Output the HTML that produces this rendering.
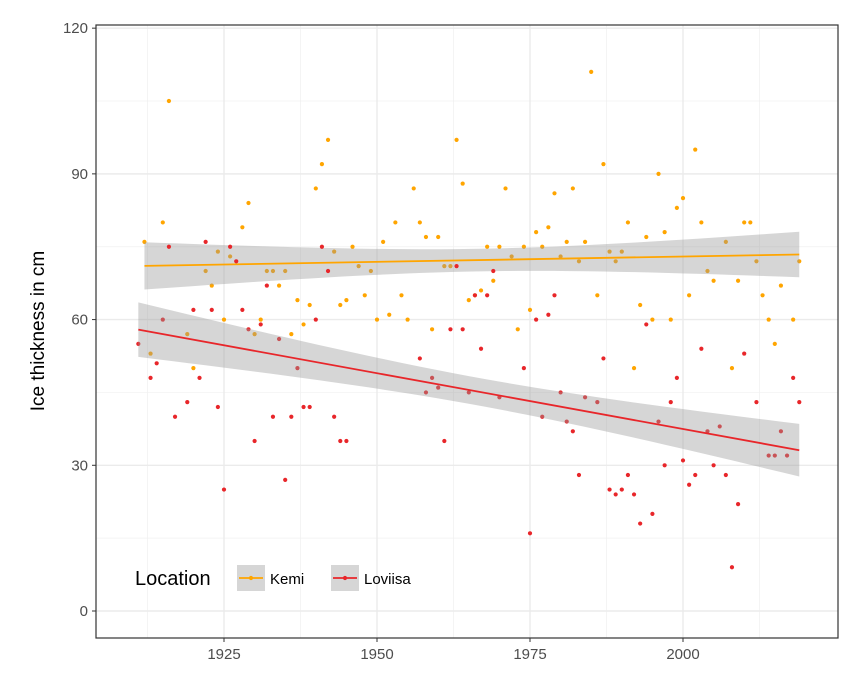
<!DOCTYPE html>
<html><head><meta charset="utf-8"><style>
body{margin:0;background:#fff;}
svg{font-family:"Liberation Sans",sans-serif;}
</style></head><body>
<svg id="chart" width="852" height="681" viewBox="0 0 852 681" xmlns="http://www.w3.org/2000/svg"></svg>
<script>
const kemiYears=[1912,1913,1915,1916,1919,1920,1922,1923,1924,1925,1926,1928,1929,1930,1931,1932,1933,1934,1935,1936,1937,1938,1939,1940,1941,1942,1943,1944,1945,1946,1947,1948,1949,1950,1951,1952,1953,1954,1955,1956,1957,1958,1959,1960,1961,1962,1963,1964,1965,1966,1967,1968,1969,1970,1971,1972,1973,1974,1975,1976,1977,1978,1979,1980,1981,1982,1983,1984,1985,1986,1987,1988,1989,1990,1991,1992,1993,1994,1995,1996,1997,1998,1999,2000,2001,2002,2003,2004,2005,2007,2008,2009,2010,2011,2012,2013,2014,2015,2016,2018,2019];
const kemiValues=[76,53,80,105,57,50,70,67,74,60,73,79,84,57,60,70,70,67,70,57,64,59,63,87,92,97,74,63,64,75,71,65,70,60,76,61,80,65,60,87,80,77,58,77,71,71,97,88,64,65,66,75,68,75,87,73,58,75,62,78,75,79,86,73,76,87,72,76,111,65,92,74,72,74,80,50,63,77,60,90,78,60,83,85,65,95,80,70,68,76,50,68,80,80,72,65,60,55,67,60,72];
const loviisaYears=[1911,1913,1914,1915,1916,1917,1919,1920,1921,1922,1923,1924,1925,1926,1927,1928,1929,1930,1931,1932,1933,1934,1935,1936,1937,1938,1939,1940,1941,1942,1943,1944,1945,1957,1958,1959,1960,1961,1962,1963,1964,1965,1966,1967,1968,1969,1970,1974,1975,1976,1977,1978,1979,1980,1981,1982,1983,1984,1986,1987,1988,1989,1990,1991,1992,1993,1994,1995,1996,1997,1998,1999,2000,2001,2002,2003,2004,2005,2006,2007,2008,2009,2010,2012,2014,2015,2016,2017,2018,2019];
const loviisaValues=[55,48,51,60,75,40,43,62,48,76,62,42,25,75,72,62,58,35,59,67,40,56,27,40,50,42,42,60,75,70,40,35,35,52,45,48,46,35,58,71,58,45,65,54,65,70,44,50,16,60,40,61,65,45,39,37,28,44,43,52,25,24,25,28,24,18,59,20,39,30,43,48,31,26,28,54,37,30,38,28,9,22,53,43,32,32,37,32,48,43];
const yTicks=[0,30,60,90,120];
const xTicks=[1925,1950,1975,2000];

const svg=document.getElementById('chart');
const NS='http://www.w3.org/2000/svg';
const L=96,R=838,T=25,B=638;
const x=v=>224+(v-1925)*6.12;
const y=v=>611-v*4.857;
function mk(tag,attrs,parent){const e=document.createElementNS(NS,tag);for(const k in attrs)e.setAttribute(k,attrs[k]);(parent||svg).appendChild(e);return e;}

// grid
for(let v=15;v<=120;v+=30){const l=mk('line',{x1:L,x2:R,y1:y(v),y2:y(v),stroke:'#f0f0f0','stroke-width':0.7});

}
for(let v=1912.5;v<=2025;v+=25){const l=mk('line',{x1:x(v),x2:x(v),y1:T,y2:B,stroke:'#f0f0f0','stroke-width':0.7});

}
yTicks.forEach(v=>{const l=mk('line',{x1:L,x2:R,y1:y(v),y2:y(v),stroke:'#ebebeb','stroke-width':1.4});


const t=mk('text',{x:L-8,y:y(v)+5,'text-anchor':'end','font-size':15,fill:'#4d4d4d'});t.textContent=v;


const tk=mk('line',{x1:L-4,x2:L,y1:y(v),y2:y(v),stroke:'#333','stroke-width':1});

});
xTicks.forEach(v=>{const l=mk('line',{x1:x(v),x2:x(v),y1:T,y2:B,stroke:'#ebebeb','stroke-width':1.4});


const t=mk('text',{x:x(v),y:B+21,'text-anchor':'middle','font-size':15,fill:'#4d4d4d'});t.textContent=v;


const tk=mk('line',{x1:x(v),x2:x(v),y1:B,y2:B+4,stroke:'#333','stroke-width':1});

});

function series(xs,ys,color,name){
  const g=mk('g',{});
  
  
  xs.forEach((xv,i)=>{const c=mk('circle',{cx:x(xv),cy:y(ys[i]),r:2.1,fill:color},g);
    
    });
  // regression
  const n=xs.length,mx=xs.reduce((a,b)=>a+b)/n,my=ys.reduce((a,b)=>a+b)/n;
  let sxx=0,sxy=0;xs.forEach((xv,i)=>{sxx+=(xv-mx)**2;sxy+=(xv-mx)*(ys[i]-my);});
  const b=sxy/sxx,a=my-b*mx;let sse=0;xs.forEach((xv,i)=>{sse+=(ys[i]-a-b*xv)**2;});
  const s=Math.sqrt(sse/(n-2)),tq=1.985;
  const x0=Math.min(...xs),x1=Math.max(...xs);
  const up=[],lo=[];
  for(let k=0;k<=40;k++){const xv=x0+(x1-x0)*k/40;const f=a+b*xv;const se=s*Math.sqrt(1/n+(xv-mx)**2/sxx);
    up.push(x(xv)+','+y(f+tq*se));lo.unshift(x(xv)+','+y(f-tq*se));}
  const band=mk('polygon',{points:up.concat(lo).join(' '),fill:'#999',opacity:0.4});
  
  
  const ln=mk('line',{x1:x(x0),y1:y(a+b*x0),x2:x(x1),y2:y(a+b*x1),stroke:color,'stroke-width':1.8});
  
  
}
series(kemiYears,kemiValues,'#FFA500','kemi');
series(loviisaYears,loviisaValues,'#E8262A','loviisa');

const border=mk('rect',{x:L,y:T,width:R-L,height:B-T,fill:'none',stroke:'#333','stroke-width':1.2});



const yl=mk('text',{x:0,y:0,transform:'translate(44,331) rotate(-90)','text-anchor':'middle','font-size':19,fill:'#000'});yl.textContent='Ice thickness in cm';



// legend
const lg=mk('g',{});


const lt=mk('text',{x:135,y:585,'font-size':20,fill:'#000'},lg);lt.textContent='Location';


[['Kemi','#FFA500',237],['Loviisa','#E8262A',331]].forEach(([nm,c,lx])=>{
  const e=mk('g',{},lg);
  
  
  mk('rect',{x:lx,y:565,width:28,height:26,fill:'#d6d6d6'},e);
  mk('line',{x1:lx+2,x2:lx+26,y1:578,y2:578,stroke:c,'stroke-width':1.8},e);
  mk('circle',{cx:lx+14,cy:578,r:2.1,fill:c},e);
  const t=mk('text',{x:lx+33,y:584,'font-size':15,fill:'#000'},e);t.textContent=nm;
});
</script>
</body></html>
